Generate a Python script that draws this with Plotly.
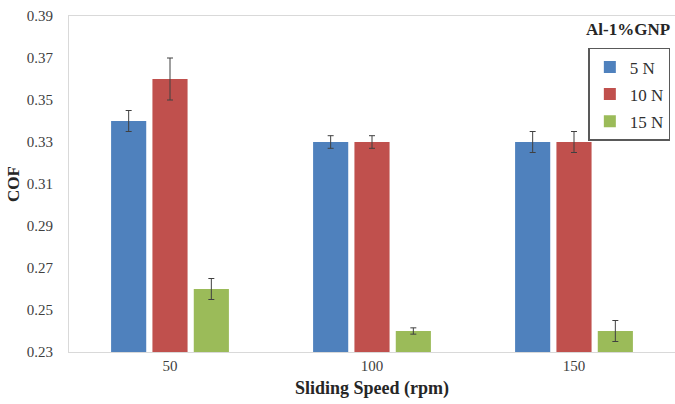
import plotly.graph_objects as go

speeds = ["50", "100", "150"]
series_names = ["5 N", "10 N", "15 N"]
cof_5n = [0.34, 0.33, 0.33]
cof_10n = [0.36, 0.33, 0.33]
cof_15n = [0.26, 0.24, 0.24]
err_5n = [0.005, 0.003, 0.005]
err_10n = [0.01, 0.003, 0.005]
err_15n = [0.005, 0.0015, 0.005]
colors = ["#4F81BD", "#C0504D", "#9BBB59"]
y_ticks = [0.23, 0.25, 0.27, 0.29, 0.31, 0.33, 0.35, 0.37, 0.39]

fig = go.Figure()
for i, (name, vals, errs) in enumerate(zip(series_names, [cof_5n, cof_10n, cof_15n], [err_5n, err_10n, err_15n])):
    fig.add_trace(go.Bar(
        x=speeds, y=vals, name=name, marker_color=colors[i], marker_line_width=0,
        legendgroup=name,
        error_y=dict(type="data", array=errs, visible=True, color="#404040", thickness=1, width=3),
    ))

font = "Liberation Serif, Times New Roman, serif"
fig.update_layout(
    width=675, height=404,
    margin=dict(l=69, r=0, t=16, b=52),
    paper_bgcolor="white", plot_bgcolor="white",
    barmode="group", bargap=0.386, bargroupgap=0.15,
    font=dict(family=font, size=15, color="#404040"),
    showlegend=True,
    legend=dict(
        x=0.857, y=0.905, xanchor="left", yanchor="top",
        bordercolor="#595959", borderwidth=1.5, bgcolor="white",
        font=dict(family=font, size=17, color="#303030"),
        traceorder="grouped", tracegroupgap=2,
    ),
    xaxis=dict(
        showline=True, linecolor="#D9D9D9", linewidth=1, mirror=True,
        showgrid=False, ticks="",
        tickfont=dict(family=font, size=15, color="#404040"),
        title=dict(text="<b>Sliding Speed (rpm)</b>", font=dict(family=font, size=18, color="#262626"), standoff=8),
    ),
    yaxis=dict(
        range=[0.23, 0.39], tickvals=y_ticks, tickformat=".2f",
        showline=True, linecolor="#D9D9D9", linewidth=1,
        showgrid=False, zeroline=False, ticks="", ticklabelstandoff=12,
        tickfont=dict(family=font, size=15, color="#404040"),
        title=dict(text="<b>COF</b>", font=dict(family=font, size=17, color="#262626"), standoff=2),
    ),
    annotations=[dict(
        text="<b>Al-1%GNP</b>", xref="paper", yref="paper", x=0.995, y=0.96,
        xanchor="right", yanchor="middle", showarrow=False,
        font=dict(family=font, size=17, color="#262626"),
    )],
)

fig.write_html("out.html")
